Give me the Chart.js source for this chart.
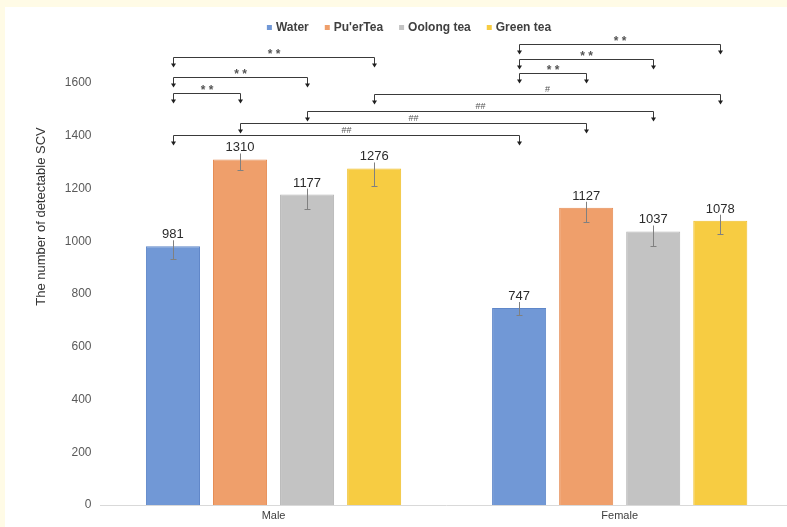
<!DOCTYPE html>
<html>
<head>
<meta charset="utf-8">
<script src="https://cdn.jsdelivr.net/npm/chart.js@4/dist/chart.umd.min.js"></script>
<style>
  html, body { margin: 0; padding: 0; background: #fffbe6; overflow: hidden; }
  #frame { position: absolute; left: 5px; top: 7px; width: 782px; height: 520px; overflow: hidden; background: #ffffff; }
  canvas { display: block; }
</style>
</head>
<body>
<div id="frame"><canvas id="c" width="800" height="520"></canvas></div>
<script>
// Groups and series
const groups = ['Male', 'Female'];
const seriesNames = ['Water', "Pu'erTea", 'Oolong tea', 'Green tea'];

// Mean number of detectable SCV per group
const water  = [981, 747];
const puer   = [1310, 1127];
const oolong = [1177, 1037];
const green  = [1276, 1078];

// Error bar half-widths
const waterErr  = [50, 25];
const puerErr   = [40, 55];
const oolongErr = [55, 55];
const greenErr  = [65, 50];

// Y axis ticks
const yTicks = [0, 200, 400, 600, 800, 1000, 1200, 1400, 1600];

// Significance brackets: [series, group] endpoints, bracket level (axis units), mark
const brackets = [
  { a: [0, 0], b: [3, 0], level: 1698, mark: '* *' },
  { a: [0, 0], b: [2, 0], level: 1622, mark: '* *' },
  { a: [0, 0], b: [1, 0], level: 1561, mark: '* *' },
  { a: [0, 1], b: [3, 1], level: 1748, mark: '* *' },
  { a: [0, 1], b: [2, 1], level: 1691, mark: '* *' },
  { a: [0, 1], b: [1, 1], level: 1638, mark: '* *' },
  { a: [3, 0], b: [3, 1], level: 1557, mark: '#' },
  { a: [2, 0], b: [2, 1], level: 1495, mark: '##' },
  { a: [1, 0], b: [1, 1], level: 1450, mark: '##' },
  { a: [0, 0], b: [0, 1], level: 1403, mark: '##' }
];

const FONT = '"Liberation Sans", Arial, sans-serif';
Chart.defaults.font.family = FONT;

const fills   = ['#7198d6', '#ef9f6b', '#c3c3c3', '#f7cc42'];
const borders = ['#5f87c9', '#e68d55', '#b3b3b3', '#efc02c'];
const values  = [water, puer, oolong, green];
const errs    = [waterErr, puerErr, oolongErr, greenErr];

const datasets = seriesNames.map((name, i) => ({
  label: name,
  data: values[i],
  errors: errs[i],
  backgroundColor: fills[i],
  borderColor: borders[i],
  borderWidth: 1,
  categoryPercentage: 0.775,
  barPercentage: 0.806
}));

// Error bars, then value labels on a white backing above each bar
const barExtras = {
  id: 'barExtras',
  afterDatasetsDraw(chart) {
    const { ctx } = chart;
    const y = chart.scales.y;
    ctx.save();
    chart.data.datasets.forEach((ds, i) => {
      chart.getDatasetMeta(i).data.forEach((bar, j) => {
        const v = ds.data[j], e = ds.errors[j];
        const x = Math.round(bar.x) + 0.5;
        const yt = Math.round(y.getPixelForValue(v + e)) + 0.5;
        const yb = Math.round(y.getPixelForValue(v - e)) + 0.5;
        ctx.strokeStyle = '#808080';
        ctx.lineWidth = 1;
        ctx.beginPath();
        ctx.moveTo(x, yt); ctx.lineTo(x, yb);
        ctx.moveTo(x - 3, yb); ctx.lineTo(x + 3, yb);
        ctx.stroke();
      });
    });
    ctx.font = '13px ' + FONT;
    ctx.textAlign = 'center';
    ctx.textBaseline = 'alphabetic';
    chart.data.datasets.forEach((ds, i) => {
      chart.getDatasetMeta(i).data.forEach((bar, j) => {
        const v = ds.data[j];
        const base = y.getPixelForValue(v) - 8;
        const w = ctx.measureText(String(v)).width;
        ctx.fillStyle = '#ffffff';
        ctx.fillRect(bar.x - w / 2 - 1, base - 11, w + 2, 13);
        ctx.fillStyle = '#2b2b2b';
        ctx.fillText(String(v), bar.x, base);
      });
    });
    ctx.restore();
  }
};

// Comparison brackets with down arrows
const bracketPlugin = {
  id: 'brackets',
  afterDraw(chart) {
    const { ctx } = chart;
    const y = chart.scales.y;
    const px = (p) => Math.round(chart.getDatasetMeta(p[0]).data[p[1]].x) + 0.5;
    ctx.save();
    brackets.forEach(br => {
      const x1 = px(br.a), x2 = px(br.b);
      const ly = Math.round(y.getPixelForValue(br.level)) + 0.5;
      const drop = 10;
      ctx.strokeStyle = '#3a3a3a';
      ctx.fillStyle = '#1f1f1f';
      ctx.lineWidth = 1;
      ctx.beginPath();
      ctx.moveTo(x1, ly + drop - 3); ctx.lineTo(x1, ly);
      ctx.lineTo(x2, ly); ctx.lineTo(x2, ly + drop - 3);
      ctx.stroke();
      [x1, x2].forEach(x => {
        ctx.beginPath();
        ctx.moveTo(x - 2.5, ly + drop - 4);
        ctx.lineTo(x + 2.5, ly + drop - 4);
        ctx.lineTo(x, ly + drop);
        ctx.closePath();
        ctx.fill();
      });
      ctx.fillStyle = '#555555';
      ctx.textAlign = 'center';
      ctx.textBaseline = 'middle';
      if (br.mark.indexOf('*') >= 0) {
        ctx.font = 'bold 12px ' + FONT;
        ctx.fillText(br.mark, (x1 + x2) / 2, ly - 3);
      } else {
        ctx.font = '9px ' + FONT;
        ctx.fillText(br.mark, (x1 + x2) / 2, ly - 5);
      }
    });
    ctx.restore();
  }
};

// Legend row and rotated axis title
const decorations = {
  id: 'decorations',
  afterDraw(chart) {
    const { ctx } = chart;
    ctx.save();
    ctx.font = 'bold 12px ' + FONT;
    ctx.textBaseline = 'middle';
    ctx.textAlign = 'left';
    const box = 5, gapText = 4, gapItem = 16, cy = 20;
    const items = chart.data.datasets.map(ds => ({ t: ds.label, c: ds.backgroundColor, w: ctx.measureText(ds.label).width }));
    const total = items.reduce((s, it) => s + box + gapText + it.w, 0) + gapItem * (items.length - 1);
    let x = 404 - total / 2;
    items.forEach(it => {
      ctx.fillStyle = it.c;
      ctx.fillRect(x, cy - box / 2 + 0.5, box, box);
      ctx.fillStyle = '#404040';
      ctx.fillText(it.t, x + box + gapText, cy + 1);
      x += box + gapText + it.w + gapItem;
    });
    ctx.translate(36.7, 209.5);
    ctx.rotate(-Math.PI / 2);
    ctx.textAlign = 'center';
    ctx.font = '13px ' + FONT;
    ctx.fillStyle = '#333333';
    ctx.fillText('The number of detectable SCV', 0, 0);
    ctx.restore();
  }
};

new Chart(document.getElementById('c'), {
  type: 'bar',
  data: { labels: groups, datasets },
  options: {
    responsive: false,
    animation: false,
    devicePixelRatio: 1,
    layout: { padding: { top: 76, right: 12.25, left: 0, bottom: 0 } },
    plugins: { legend: { display: false }, tooltip: { enabled: false } },
    scales: {
      x: {
        grid: { display: false, drawTicks: false },
        border: { display: true, color: '#d9d9d9', width: 1 },
        ticks: { color: '#404040', font: { size: 11 }, padding: 4 },
        afterFit(s) { s.height = 22; }
      },
      y: {
        min: 0,
        max: 1600,
        grid: { display: false, drawTicks: false },
        border: { display: false },
        afterBuildTicks(s) { s.ticks = yTicks.map(v => ({ value: v })); },
        ticks: { color: '#595959', font: { size: 12 }, padding: 9, callback: (v) => String(v) },
        afterFit(s) { s.width = 95.5; }
      }
    }
  },
  plugins: [barExtras, bracketPlugin, decorations]
});
</script>
</body>
</html>
